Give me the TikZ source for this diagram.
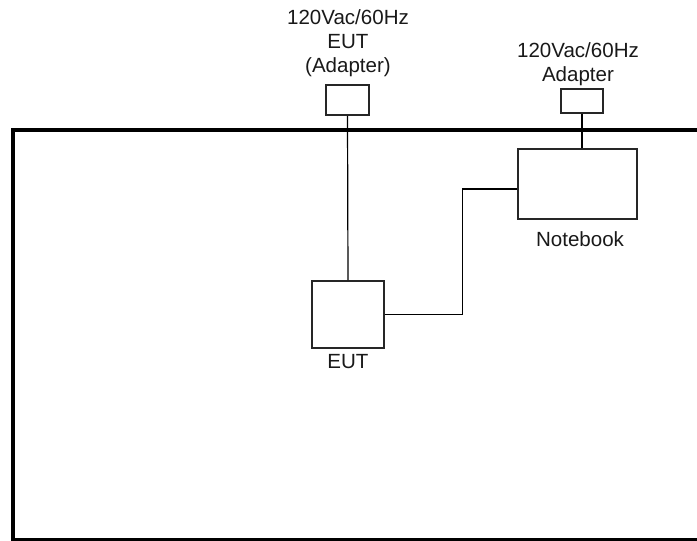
\documentclass[tikz,border=0pt]{standalone}
\usepackage{fontspec}
\setmainfont{Liberation Sans}
\usetikzlibrary{calc}
\begin{document}
\begin{tikzpicture}[x=0.75pt,y=-0.75pt,
  box/.style={draw=black!85, line width=1.3pt, fill=white, inner sep=0pt},
  wire/.style={draw=black, line width=0.9pt},
  frame/.style={draw=black, line width=2.7pt},
  lbl/.style={font=\fontsize{15.4}{18}\selectfont, align=center, inner sep=0pt, text=black!90}]
\useasboundingbox (0,0) rectangle (697,541);
% outer frame (open to the right)
\draw[frame] (730,130) -- (13,130) -- (13,540) -- (730,540);
% boxes
\node[box, minimum width=43*0.75pt, minimum height=30*0.75pt] (ad1) at (347.5,100) {};
\node[box, minimum width=42*0.75pt, minimum height=24*0.75pt] (ad2) at (582,101) {};
\node[box, minimum width=119*0.75pt, minimum height=70*0.75pt] (nb) at (577.5,184) {};
\node[box, minimum width=72*0.75pt, minimum height=67*0.75pt] (eut) at (348,314.5) {};
% labels
\node[lbl] (t1) at (348,43) {120Vac/60Hz\\EUT\\(Adapter)};
\node[lbl] (t2) at (578,64) {120Vac/60Hz\\Adapter};
\node[lbl] (t3) at (580,239) {Notebook};
\node[lbl] (t4) at (348,362) {EUT};
% connectors
\draw[wire] (ad1.south) -- (eut.north);
\draw[wire] (ad2.south) -- (ad2.south |- nb.north);
\draw[wire] (eut.east) -- ++(78,0) |- ($(nb.west)+(0,5)$);
\end{tikzpicture}
\end{document}
